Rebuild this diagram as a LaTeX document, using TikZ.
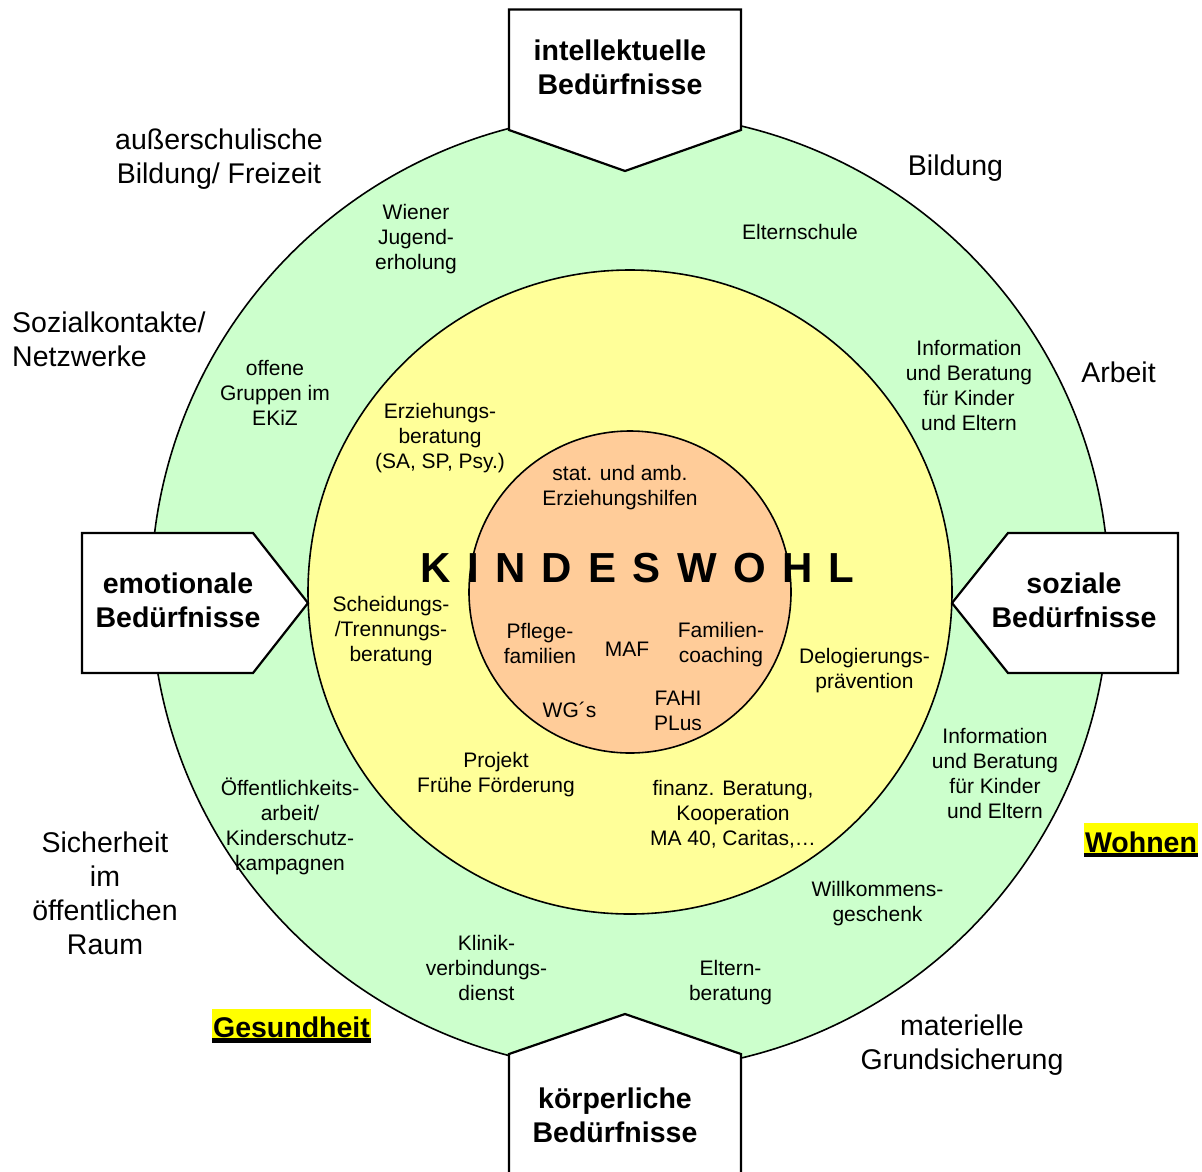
\documentclass[tikz,border=0pt]{standalone}
\usepackage{fontspec}
\setmainfont{Liberation Sans}
\definecolor{greenfill}{HTML}{CCFFCC}
\definecolor{yellowfill}{HTML}{FFFF99}
\definecolor{orangefill}{HTML}{FFCC99}
\definecolor{hlyellow}{HTML}{FFFF00}
\newcommand{\kwgap}{\hspace{16.3pt}}
\begin{document}
\begin{tikzpicture}[x=1pt,y=-1pt,
  ring/.style={draw=black,line width=1.6pt},
  needbox/.style={draw=black,fill=white,line width=2.2pt,line join=miter},
  small/.style={font=\fontsize{21}{25}\selectfont,align=center,inner sep=0pt},
  outer/.style={font=\fontsize{28.5}{34}\selectfont,align=center,inner sep=0pt},
  need/.style={font=\fontsize{28.5}{34}\selectfont\bfseries,align=center,inner sep=0pt},
  hl/.style={fill=hlyellow}
]
\useasboundingbox (0,0) rectangle (1202,1171);
\fill[white] (0,0) rectangle (1202,1171);
\coordinate (c) at (630,592);
\draw[ring,fill=greenfill] (c) circle[radius=479pt];
\draw[ring,fill=yellowfill] (c) circle[radius=322pt];
\draw[ring,fill=orangefill] (c) circle[radius=161pt];

% need boxes
\draw[needbox] (509,9.5) -- (741,9.5) -- (741,130) -- (625,171) -- (509,130) -- cycle;
\draw[needbox] (509,1190) -- (509,1054) -- (625,1014) -- (741,1054) -- (741,1190) -- cycle;
\draw[needbox] (82,533) -- (253,533) -- (308,603) -- (253,673) -- (82,673) -- cycle;
\draw[needbox] (1178,533) -- (1008,533) -- (952,603) -- (1008,673) -- (1178,673) -- cycle;

\node[need] (nInt) at (620,67) {intellektuelle\\Bedürfnisse};
\node[need] (nKoe) at (615,1115) {körperliche\\Bedürfnisse};
\node[need] (nEmo) at (178,600) {emotionale\\Bedürfnisse};
\node[need] (nSoz) at (1074,600) {soziale\\Bedürfnisse};

% outer labels
\node[outer] (oAus) at (219,159) {außerschulische\\Bildung/ Freizeit};
\node[outer,anchor=base] (oBil) at (955.5,175) {Bildung};
\node[outer,align=left,anchor=west] (oSoz) at (12,339) {Sozialkontakte/\\Netzwerke};
\node[outer,anchor=base] (oArb) at (1118.5,382) {Arbeit};
\node[outer] (oSic) at (105,893) {Sicherheit\\im\\öffentlichen\\Raum};
\node[outer] (oMat) at (962,1045) {materielle\\Grundsicherung};

% highlighted labels
\fill[hl] (1084,823) rectangle (1198,853);
\fill[black] (1084,853) rectangle (1198,857);
\node[need,anchor=base] (oWoh) at (1141,852) {Wohnen};
\fill[hl] (212,1009) rectangle (371,1038);
\fill[black] (212,1038) rectangle (371,1043);
\node[need,anchor=base] (oGes) at (291.5,1037) {Gesundheit};

% green ring texts
\node[small] (sWie) at (416,239) {Wiener\\Jugend-\\erholung};
\node[small,anchor=base] (sElt) at (800,239) {Elternschule};
\node[small] (sInf1) at (969,385) {Information\\und Beratung\\für Kinder\\und Eltern};
\node[small] (sOff) at (275,393) {offene\\Gruppen im\\EKiZ};
\node[small] (sInf2) at (995,773) {Information\\und Beratung\\für Kinder\\und Eltern};
\node[small] (sOef) at (290,826) {Öffentlichkeits-\\arbeit/\\Kinderschutz-\\kampagnen};
\node[small] (sKli) at (486.5,968) {Klinik-\\verbindungs-\\dienst};
\node[small] (sEln) at (730.5,983) {Eltern-\\beratung};
\node[small] (sWil) at (877.5,904) {Willkommens-\\geschenk};

% yellow ring texts
\node[small] (sErz) at (440,438) {Erziehungs-\\beratung\\(SA, SP, Psy.)};
\node[small] (sSch) at (391,631) {Scheidungs-\\/Trennungs-\\beratung};
\node[small] (sDel) at (864.5,671) {Delogierungs-\\prävention};
\node[small] (sPro) at (496,775) {Projekt\\Frühe Förderung};
\node[small] (sFin) at (733,814) {finanz. Beratung,\\Kooperation\\MA 40, Caritas,…};

% orange core texts
\node[small] (sSta) at (620,488) {stat. und amb.\\Erziehungshilfen};
\node[small] (sPfl) at (540,643) {Pflege-\\familien};
\node[small,anchor=base] (sMAF) at (627,656) {MAF};
\node[small] (sFam) at (721,645) {Familien-\\coaching};
\node[small,anchor=base] (sWG) at (569.5,717) {WG´s};
\node[small] (sFah) at (678,711) {FAHI\\PLus};

\node[font=\fontsize{42}{50}\selectfont\bfseries,inner sep=0pt,anchor=base] (kw) at (637.5,582)
  {K\kwgap I\kwgap N\kwgap D\kwgap E\kwgap S\kwgap W\kwgap O\kwgap H\kwgap L};
\end{tikzpicture}
\end{document}
